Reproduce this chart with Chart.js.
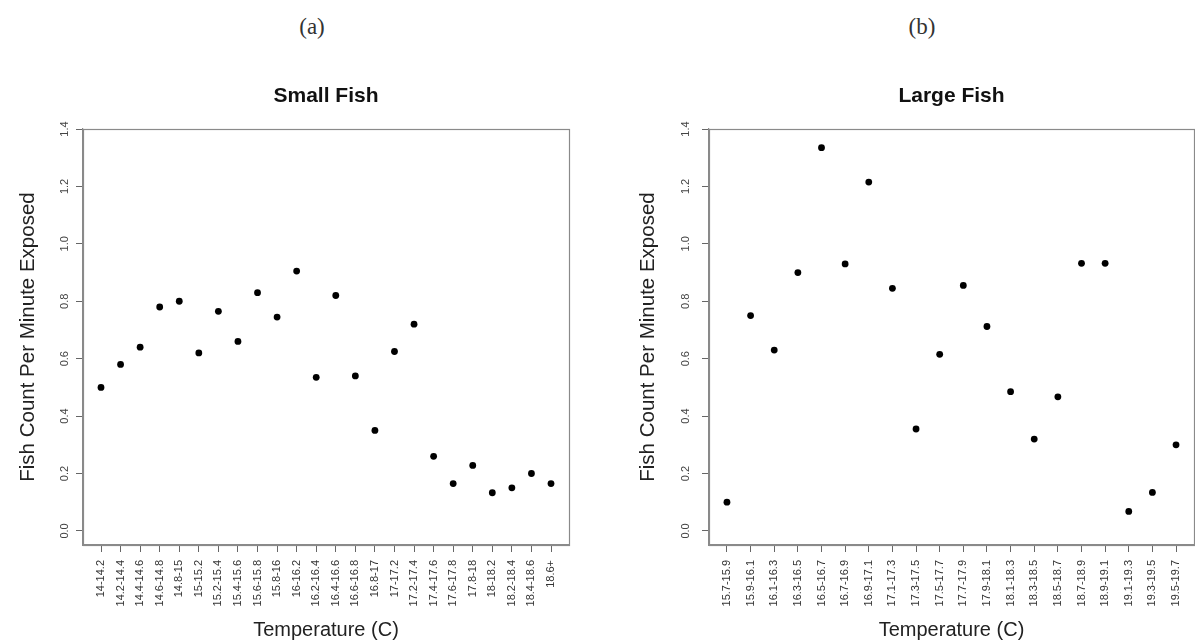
<!DOCTYPE html>
<html>
<head>
<meta charset="utf-8">
<script src="https://cdn.jsdelivr.net/npm/chart.js@4.4.1/dist/chart.umd.min.js"></script>
<style>
  html,body{margin:0;padding:0;background:#fff;}
  body{width:1195px;height:644px;position:relative;overflow:hidden;}
  .cap{position:absolute;width:100px;text-align:center;font-family:"Liberation Serif","DejaVu Serif",serif;font-size:23px;line-height:23px;color:#333;}
  canvas{position:absolute;top:0;}
</style>
</head>
<body>
<div class="cap" id="capA" style="left:262px;top:15px;">(a)</div>
<div class="cap" id="capB" style="left:872px;top:15px;">(b)</div>
<canvas id="cSmall" width="597" height="644" style="left:0px;"></canvas>
<canvas id="cLarge" width="597" height="644" style="left:626px;"></canvas>
<script>
// ---- data ----
const smallCategories = ["14-14.2","14.2-14.4","14.4-14.6","14.6-14.8","14.8-15","15-15.2","15.2-15.4","15.4-15.6","15.6-15.8","15.8-16","16-16.2","16.2-16.4","16.4-16.6","16.6-16.8","16.8-17","17-17.2","17.2-17.4","17.4-17.6","17.6-17.8","17.8-18","18-18.2","18.2-18.4","18.4-18.6","18.6+"];
const smallValues = [0.50,0.58,0.64,0.78,0.80,0.62,0.765,0.66,0.83,0.745,0.905,0.535,0.82,0.54,0.35,0.625,0.72,0.26,0.165,0.228,0.133,0.15,0.20,0.165];
const largeCategories = ["15.7-15.9","15.9-16.1","16.1-16.3","16.3-16.5","16.5-16.7","16.7-16.9","16.9-17.1","17.1-17.3","17.3-17.5","17.5-17.7","17.7-17.9","17.9-18.1","18.1-18.3","18.3-18.5","18.5-18.7","18.7-18.9","18.9-19.1","19.1-19.3","19.3-19.5","19.5-19.7"];
const largeValues = [0.10,0.75,0.63,0.90,1.335,0.93,1.215,0.845,0.355,0.615,0.855,0.712,0.485,0.32,0.467,0.932,0.932,0.068,0.134,0.30];
const yTickValues = [0.0,0.2,0.4,0.6,0.8,1.0,1.2,1.4];
const yAxisTitle = "Fish Count Per Minute Exposed";
const xAxisTitle = "Temperature (C)";

const FONT = "'Liberation Sans', Arial, Helvetica, sans-serif";
const Y_MIN = -0.049, Y_MAX = 1.4;
const AREA_TOP = 129, AREA_BOTTOM = 545;

const boxPlugin = {
  id: 'rbox',
  afterDatasetsDraw(chart) {
    const a = chart.chartArea, ctx = chart.ctx;
    ctx.save();
    ctx.strokeStyle = '#8a8a8a';
    ctx.lineWidth = 1.2;
    ctx.strokeRect(Math.round(a.left)+0.5, Math.round(a.top)+0.5, Math.round(a.right-a.left), Math.round(a.bottom-a.top));
    ctx.restore();
  }
};
function yLabelPlugin(offset) {
  return {
    id: 'ylabels',
    afterDraw(chart) {
      const s = chart.scales.y, ctx = chart.ctx;
      ctx.save();
      ctx.fillStyle = '#444';
      ctx.font = "11px " + FONT;
      ctx.textAlign = 'center';
      ctx.textBaseline = 'middle';
      s.ticks.forEach(t => {
        const y = s.getPixelForValue(t.value);
        ctx.save();
        ctx.translate(chart.chartArea.left - offset, y);
        ctx.rotate(-Math.PI/2);
        ctx.fillText(t.value.toFixed(1), 0, 0);
        ctx.restore();
      });
      ctx.restore();
    }
  };
}

function makeChart(id, cats, vals, title, cfg) {
  const n = cats.length;
  const ext = 0.04 * (n - 1);
  return new Chart(document.getElementById(id), {
    type: 'scatter',
    data: { datasets: [{
      data: vals.map((v, i) => ({x: i, y: v})),
      pointRadius: 3.4,
      pointBackgroundColor: '#000',
      pointBorderColor: '#000',
      pointBorderWidth: 0,
      showLine: false
    }]},
    options: {
      responsive: false,
      animation: false,
      events: [],
      layout: { padding: { left: 0, right: cfg.padRight, top: 0, bottom: 0 } },
      plugins: {
        legend: { display: false },
        tooltip: { enabled: false },
        title: {
          display: true, text: title, fullSize: false,
          color: '#111',
          font: { family: FONT, size: 21, weight: 'bold' },
          padding: { top: 84, bottom: AREA_TOP - 84 - 25.2 }
        }
      },
      scales: {
        x: {
          type: 'linear',
          min: -ext, max: n - 1 + ext,
          afterBuildTicks: s => { s.ticks = cats.map((c, i) => ({ value: i })); },
          afterFit: s => { s.height = 644 - AREA_BOTTOM; },
          ticks: {
            autoSkip: false, minRotation: 90, maxRotation: 90,
            callback: v => cats[v],
            color: '#333', padding: 8,
            font: { family: FONT, size: 11 }
          },
          grid: { drawOnChartArea: false, drawTicks: true, tickLength: 7, color: '#666', tickWidth: 1 },
          border: { display: true, color: '#8a8a8a', width: 1.2 },
          title: { display: true, text: xAxisTitle, color: '#222', font: { family: FONT, size: 20 }, padding: { top: 0, bottom: 2 } }
        },
        y: {
          min: Y_MIN, max: Y_MAX,
          afterBuildTicks: s => { s.ticks = yTickValues.map(v => ({ value: v })); },
          afterFit: s => { s.width = cfg.areaLeft; },
          ticks: { display: false },
          grid: { drawOnChartArea: false, drawTicks: true, tickLength: 7, color: '#666', tickWidth: 1 },
          border: { display: true, color: '#8a8a8a', width: 1.2 },
          title: { display: true, text: yAxisTitle, color: '#222', font: { family: FONT, size: 20.5 }, padding: { top: cfg.titlePad, bottom: 0 } }
        }
      }
    },
    plugins: [boxPlugin, yLabelPlugin(cfg.labelOffset)]
  });
}

makeChart('cSmall', smallCategories, smallValues, 'Small Fish', { padRight: 28, areaLeft: 83, titlePad: 16, labelOffset: 18 });
makeChart('cLarge', largeCategories, largeValues, 'Large Fish', { padRight: 29, areaLeft: 83, titlePad: 10, labelOffset: 23 });
</script>
</body>
</html>
